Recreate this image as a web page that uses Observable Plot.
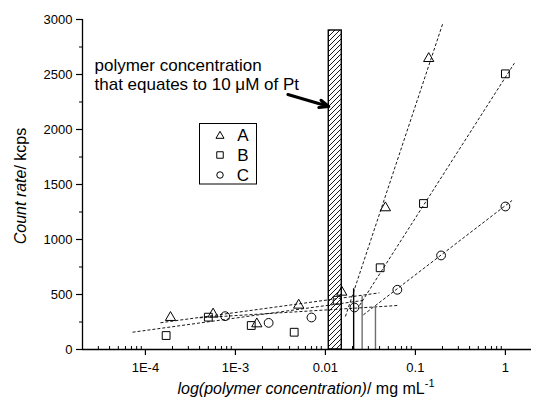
<!DOCTYPE html>
<html><head><meta charset="utf-8">
<script src="https://cdn.jsdelivr.net/npm/d3@7"></script>
<script src="https://cdn.jsdelivr.net/npm/@observablehq/plot@0.6"></script>
<style>body{margin:0;background:#fff}</style>
</head><body><div id="chart"></div>
<script>
// ---- data ----
const seriesNames = ["A", "B", "C"];
const concA = [1.9e-4, 5.65e-4, 1.73e-3, 5.05e-3, 0.0152, 0.0464, 0.1406];
const rateA = [291, 322, 233, 403, 521, 1288, 2645];
const concB = [1.7e-4, 5.0e-4, 1.5e-3, 4.5e-3, 0.0135, 0.0406, 0.123, 1.0];
const rateB = [127, 294, 218, 157, 448, 743, 1327, 2506];
const concC = [7.7e-4, 2.34e-3, 7.0e-3, 0.021, 0.063, 0.193, 1.0];
const rateC = [303, 242, 291, 382, 543, 855, 1300];
// dashed fit lines (low- and high-concentration regimes)
const fitX1 = [1.47e-4, 7.2e-5, 4.0e-4, 0.01668, 0.0239, 0.0264];
const fitY1 = [243, 157, 288, 300, 400, 315];
const fitX2 = [0.0398, 0.0258, 0.0635, 0.201, 1.259, 1.187];
const fitY2 = [515, 445, 400, 2961, 2603, 1355];
// intersection drop lines
const dropConc = [0.0206, 0.0256, 0.036];
const dropRate = [552, 485, 379];
// hatched bar: polymer concentration equating to 10 uM Pt
const barConc = [0.0109, 0.0152];
const barRate = [2900];
// annotation arrow (tail, tip)
const arrowConc = [0.00383, 0.0109];
const arrowRate = [2318, 2209];
const noteLines = ["polymer concentration", "that equates to 10 \u03BCM of Pt"];
const noteConc = [2.72e-5, 2.72e-5];
const noteRate = [2582, 2409];
// ticks
const xTickValues = [1e-4, 1e-3, 0.01, 0.1, 1];
const xTickLabels = ["1E-4", "1E-3", "0.01", "0.1", "1"];
const yTickValues = [0, 500, 1000, 1500, 2000, 2500, 3000];
const yMinorTicks = [250, 750, 1250, 1750, 2250, 2750];

// ---- build tables ----
const toRows = (xs, ys) => xs.map((x, i) => ({x, y: ys[i]}));
const ptsA = toRows(concA, rateA), ptsB = toRows(concB, rateB), ptsC = toRows(concC, rateC);
const fits = fitX1.map((x1, i) => ({x1, y1: fitY1[i], x2: fitX2[i], y2: fitY2[i]}));
const drops = dropConc.map((x, i) => ({x, y: dropRate[i], i}));
const xMinor = [];
for (let e = -5; e <= 0; e++) for (let m = 2; m <= 9; m++) {
  const v = m * Math.pow(10, e);
  if (v > 2.05e-5 && v < 1.95) xMinor.push(v);
}
const font = "'Liberation Sans', Arial, Helvetica, sans-serif";

const plot = Plot.plot({
  width: 535, height: 406,
  marginLeft: 82, marginRight: 4, marginTop: 19, marginBottom: 57,
  x: {type: "log", domain: [2e-5, 1.95]},
  y: {domain: [0, 3000]},
  style: {fontFamily: font, fontSize: "13px", background: "white", color: "black", overflow: "visible"},
  marks: [
    Plot.rect([{x1: barConc[0], x2: barConc[1], y1: 0, y2: barRate[0]}],
      {x1: "x1", x2: "x2", y1: "y1", y2: "y2", fill: "white", stroke: "black", strokeWidth: 1.4}),
    Plot.ruleX(drops, {x: "x", y1: 0, y2: "y", stroke: d => d.i === 0 ? "black" : "#6e6e6e", strokeWidth: 1.4}),
    Plot.link(fits, {x1: "x1", y1: "y1", x2: "x2", y2: "y2", stroke: "black", strokeWidth: 0.9, strokeDasharray: "3,2"}),
    Plot.dot(ptsA, {x: "x", y: "y", symbol: "triangle", r: 3.8, stroke: "black", fill: "none", strokeWidth: 1}),
    Plot.dot(ptsB, {x: "x", y: "y", symbol: "square", r: 4.4, stroke: "black", fill: "none", strokeWidth: 1}),
    Plot.dot(ptsC, {x: "x", y: "y", symbol: "circle", r: 4.4, stroke: "black", fill: "none", strokeWidth: 1}),
    Plot.arrow([{x1: arrowConc[0], y1: arrowRate[0], x2: arrowConc[1], y2: arrowRate[1]}],
      {x1: "x1", y1: "y1", x2: "x2", y2: "y2", stroke: "black", strokeWidth: 3, headLength: 5, headAngle: 45}),
    Plot.text(noteLines.map((t, i) => ({t, x: noteConc[i], y: noteRate[i]})),
      {x: "x", y: "y", text: "t", textAnchor: "start", fontSize: 17, fill: "black"}),
    Plot.axisY({ticks: yTickValues, tickSize: 6, tickPadding: 4, label: null, fontSize: 13, strokeWidth: 1.2,
      tickFormat: d => String(d)}),
    Plot.axisY({ticks: yMinorTicks, tickSize: 3, tickFormat: () => "", label: null}),
    Plot.axisX({ticks: xTickValues, tickSize: 6, tickPadding: 7, label: null, fontSize: 13, strokeWidth: 1.2,
      tickFormat: d => xTickLabels[xTickValues.indexOf(d)]}),
    Plot.axisX({ticks: xMinor, tickSize: -3, tickFormat: () => "", label: null}),
    Plot.ruleY([0], {strokeWidth: 1.3}),
    Plot.ruleX([2e-5], {strokeWidth: 1.3})
  ]
});

const svg = d3.select(plot);
const defs = svg.insert("defs", ":first-child");
const pat = defs.append("pattern").attr("id", "hatch").attr("patternUnits", "userSpaceOnUse")
  .attr("width", 5).attr("height", 5);
pat.append("rect").attr("width", 5).attr("height", 5).attr("fill", "white");
pat.append("path").attr("d", "M-1,1 L1,-1 M0,5 L5,0 M4,6 L6,4").attr("stroke", "black").attr("stroke-width", 0.9);
svg.selectAll('g[aria-label="rect"] rect').attr("fill", "url(#hatch)");

// legend
const lg = svg.append("g").attr("font-family", font);
lg.append("rect").attr("x", 199.5).attr("y", 123.5).attr("width", 57).attr("height", 60.5)
  .attr("fill", "white").attr("stroke", "black").attr("stroke-width", 1);
const legSym = [d3.symbolTriangle, d3.symbolSquare, d3.symbolCircle];
const legSize = [28, 42, 33];
seriesNames.forEach((s, i) => {
  const cy = 135 + 20 * i;
  lg.append("path").attr("d", d3.symbol(legSym[i], legSize[i])()).attr("transform", `translate(220,${cy + (i === 0 ? 1 : 0)})`)
    .attr("fill", "none").attr("stroke", "black").attr("stroke-width", 1);
  lg.append("text").attr("x", 243).attr("y", cy).attr("dy", "0.36em").attr("font-size", 17).attr("fill", "black").text(s);
});

// axis titles
const xt = svg.append("text").attr("x", 306).attr("y", 394).attr("text-anchor", "middle")
  .attr("font-family", font).attr("font-size", 16).attr("fill", "black");
xt.append("tspan").attr("font-style", "italic").text("log(polymer concentration)");
xt.append("tspan").text("/ mg mL");
xt.append("tspan").attr("font-size", 11).attr("dy", -7).text("-1");

const yt = svg.append("text").attr("transform", "translate(20,186) rotate(-90)").attr("text-anchor", "middle")
  .attr("dy", "0.35em").attr("font-family", font).attr("font-size", 16).attr("fill", "black");
yt.append("tspan").attr("font-style", "italic").text("Count rate");
yt.append("tspan").text("/ kcps");

document.getElementById("chart").appendChild(plot);
</script>
</body></html>
